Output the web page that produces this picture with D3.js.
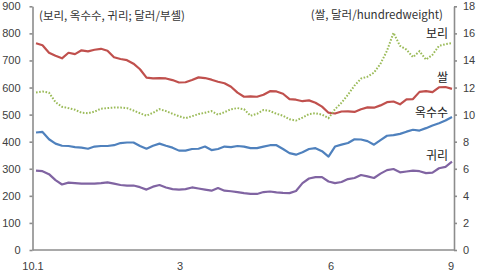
<!DOCTYPE html>
<html>
<head>
<meta charset="utf-8">
<script src="https://cdn.jsdelivr.net/npm/d3@7"></script>
<style>
  body { margin: 0; background: #fff; }
  svg text { font-family: "Noto Sans CJK KR", "Liberation Sans", sans-serif; }
  .axis path, .axis line { stroke: #8c8c8c; stroke-width: 1.6; }
  .axis text { font-family: "Liberation Sans", Arial, sans-serif; font-size: 11px; fill: #404040; }
</style>
</head>
<body>
<svg width="480" height="279"></svg>
<script>
// prices, Oct 2009 - Sep 2010, roughly every 5 days (index 0..64)
// 보리 (dotted green), 옥수수 (blue), 귀리 (purple): cents/bushel, left axis
// 쌀 (red): dollars/hundredweight, right axis
var barley = [582,585,581,546,529,524,518,507,505,511,522,524,526,526,524,515,505,496,507,520,
              513,503,494,487,494,502,507,513,500,509,520,524,520,496,503,517,513,503,496,483,
              478,489,502,505,500,487,520,544,574,607,633,640,655,688,736,802,754,740,712,734,
              703,721,754,760,764];
var corn = [434,436,409,393,385,384,380,378,374,382,384,384,387,395,397,397,384,374,385,393,
            385,378,367,367,373,374,382,369,373,382,380,384,382,376,376,382,387,387,373,358,
            352,361,373,376,365,345,382,389,395,409,408,402,389,406,422,424,429,437,444,441,
            450,460,468,478,491];
var oats = [293,291,280,258,242,249,247,245,245,245,247,250,245,240,238,238,232,223,234,240,
            231,225,223,225,231,227,223,219,229,219,217,214,210,207,207,214,216,213,211,210,
            218,247,264,269,269,253,247,251,262,266,277,272,266,282,295,299,287,290,293,291,
            284,286,302,307,326];
var rice = [15.27,15.12,14.57,14.35,14.16,14.57,14.47,14.75,14.67,14.79,14.86,14.72,14.24,14.11,14.02,13.76,13.35,12.73,12.67,12.70,
            12.67,12.55,12.37,12.39,12.56,12.75,12.70,12.58,12.43,12.32,12.06,11.62,11.32,11.35,11.32,11.47,11.73,11.71,11.54,11.14,
            11.10,10.99,11.05,10.88,10.59,10.14,10.08,10.23,10.24,10.20,10.40,10.53,10.51,10.68,10.92,10.97,10.76,11.13,11.15,11.68,
            11.74,11.66,12.02,12.04,11.90];

var leftTicks = [0,100,200,300,400,500,600,700,800,900];
var rightTicks = [0,2,4,6,8,10,12,14,16,18];
var monthLabels = ["10.1","3","6","9"];
var monthIdx = [-0.46, 22.15, 45.38, 63.85];

var svg = d3.select("svg");

var x = d3.scaleLinear().domain([0, barley.length - 1]).range([36, 452]);
var yL = d3.scaleLinear().domain([0, 900]).range([250, 6.3]);
var yR = d3.scaleLinear().domain([0, 18]).range([250, 6.3]);

// axes
svg.append("g")
   .attr("class", "axis")
   .attr("transform", "translate(32.5,0)")
   .call(d3.axisLeft(yL).tickValues(leftTicks).tickSize(3).tickPadding(9).tickSizeOuter(0));

svg.append("g")
   .attr("class", "axis")
   .attr("transform", "translate(454,0)")
   .call(d3.axisRight(yR).tickValues(rightTicks).tickSize(3).tickPadding(6).tickSizeOuter(0));

var xAxis = svg.append("g")
   .attr("class", "axis")
   .attr("transform", "translate(0,250)");
xAxis.append("line")
   .attr("x1", 32.5).attr("x2", 454)
   .attr("y1", 0).attr("y2", 0);
xAxis.selectAll("text")
   .data(monthLabels)
   .enter()
   .append("text")
   .attr("x", function(d, i){ return x(monthIdx[i]); })
   .attr("y", 20)
   .attr("text-anchor", "middle")
   .text(function(d){ return d; });

// lines
var lineL = function(arr){
  return d3.line()
           .x(function(d, i){ return x(i); })
           .y(function(d){ return yL(d); })(arr);
};
var lineR = d3.line()
              .x(function(d, i){ return x(i); })
              .y(function(d){ return yR(d); });

svg.append("path")
   .attr("d", lineR(rice))
   .attr("fill", "none")
   .attr("stroke", "#c0504d")
   .attr("stroke-width", 2.2)
   .attr("stroke-linejoin", "round");

svg.append("path")
   .attr("d", lineL(barley))
   .attr("fill", "none")
   .attr("stroke", "#9bbb59")
   .attr("stroke-width", 2)
   .attr("stroke-dasharray", "1.6,1.6");

svg.append("path")
   .attr("d", lineL(corn))
   .attr("fill", "none")
   .attr("stroke", "#4f81bd")
   .attr("stroke-width", 2.2)
   .attr("stroke-linejoin", "round");

svg.append("path")
   .attr("d", lineL(oats))
   .attr("fill", "none")
   .attr("stroke", "#8064a2")
   .attr("stroke-width", 2.2)
   .attr("stroke-linejoin", "round");

// unit notes
svg.append("text")
   .attr("x", 39).attr("y", 20)
   .attr("font-size", 11.5)
   .attr("fill", "#333")
   .text("(보리, 옥수수, 귀리;  달러/부셸)");

svg.append("text")
   .attr("x", 443).attr("y", 19)
   .attr("text-anchor", "end")
   .attr("font-size", 11.5)
   .attr("fill", "#333")
   .text("(쌀, 달러/hundredweight)");

// series labels
var names = ["보리", "쌀", "옥수수", "귀리"];
var nameY = [38, 82, 117, 160];
svg.selectAll(".name")
   .data(names)
   .enter()
   .append("text")
   .attr("class", "name")
   .attr("x", 448)
   .attr("y", function(d, i){ return nameY[i]; })
   .attr("text-anchor", "end")
   .attr("font-size", 12)
   .attr("fill", "#222")
   .text(function(d){ return d; });
</script>
</body>
</html>
